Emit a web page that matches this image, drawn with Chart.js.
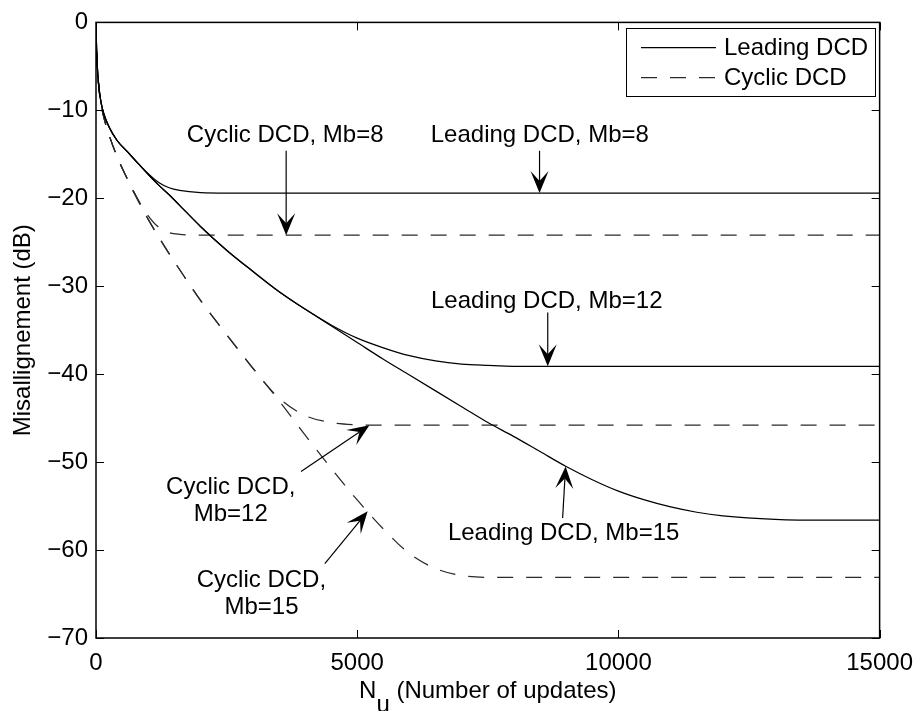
<!DOCTYPE html>
<html>
<head>
<meta charset="utf-8">
<script src="https://cdn.jsdelivr.net/npm/chart.js@4.4.1/dist/chart.umd.min.js"></script>
<style>
  html, body { margin: 0; padding: 0; background: #fff; }
  canvas { display: block; }
</style>
</head>
<body>
<canvas id="c" width="924" height="711"></canvas>
<script>
// Number of updates (shared abscissa for every curve)
const updates = [0, 10, 30, 60, 100, 150, 250, 400, 600, 800, 1000, 1200, 1400, 1600,
  2000, 2500, 3000, 3500, 4000, 4500, 5000, 5500, 6000, 6500, 7000, 7500, 8000,
  8500, 9000, 9500, 10000, 10500, 11000, 11500, 12000, 13000, 14000, 15000];

// Misalignment in dB, leading DCD
const leadingMb8 = [0, -2.8, -5.5, -7.6, -9.2, -10.4, -11.9, -13.4, -14.7, -16.0, -17.2, -18.2, -18.8, -19.1,
  -19.35, -19.4, -19.4, -19.4, -19.4, -19.4, -19.4, -19.4, -19.4, -19.4, -19.4, -19.4, -19.4,
  -19.4, -19.4, -19.4, -19.4, -19.4, -19.4, -19.4, -19.4, -19.4, -19.4, -19.4];
const leadingMb12 = [0, -2.8, -5.5, -7.6, -9.2, -10.4, -11.9, -13.4, -14.7, -16.0, -17.3, -18.5, -19.6, -20.8,
  -23.2, -25.9, -28.3, -30.6, -32.6, -34.4, -35.9, -37.0, -37.9, -38.5, -38.85, -39.0, -39.1,
  -39.1, -39.1, -39.1, -39.1, -39.1, -39.1, -39.1, -39.1, -39.1, -39.1, -39.1];
const leadingMb15 = [0, -2.8, -5.5, -7.6, -9.2, -10.4, -11.9, -13.4, -14.7, -16.0, -17.3, -18.5, -19.6, -20.8,
  -23.2, -25.9, -28.3, -30.6, -32.6, -34.5, -36.4, -38.3, -40.1, -41.9, -43.7, -45.5, -47.1,
  -48.8, -50.5, -52.0, -53.3, -54.3, -55.1, -55.7, -56.1, -56.5, -56.6, -56.6];

// Misalignment in dB, cyclic DCD
const cyclicMb8 = [0, -2.8, -5.5, -7.7, -9.4, -10.8, -12.8, -15.2, -17.8, -20.1, -22.0, -23.3, -23.9, -24.1,
  -24.2, -24.2, -24.2, -24.2, -24.2, -24.2, -24.2, -24.2, -24.2, -24.2, -24.2, -24.2, -24.2,
  -24.2, -24.2, -24.2, -24.2, -24.2, -24.2, -24.2, -24.2, -24.2, -24.2, -24.2];
const cyclicMb12 = [0, -2.8, -5.5, -7.7, -9.4, -10.8, -12.8, -15.2, -17.8, -20.2, -22.4, -24.4, -26.3, -28.1,
  -31.6, -35.5, -39.3, -42.7, -44.7, -45.5, -45.75, -45.8, -45.8, -45.8, -45.8, -45.8, -45.8,
  -45.8, -45.8, -45.8, -45.8, -45.8, -45.8, -45.8, -45.8, -45.8, -45.8, -45.8];
const cyclicMb15 = [0, -2.8, -5.5, -7.7, -9.4, -10.8, -12.8, -15.2, -17.8, -20.2, -22.4, -24.4, -26.3, -28.1,
  -31.6, -35.5, -39.3, -43.0, -46.9, -50.7, -54.3, -57.6, -60.4, -62.1, -62.9, -63.1, -63.1,
  -63.1, -63.1, -63.1, -63.1, -63.1, -63.1, -63.1, -63.1, -63.1, -63.1, -63.1];

// Axis ticks and labels
const xTicks = [0, 5000, 10000, 15000];
const yTicks = [-70, -60, -50, -40, -30, -20, -10, 0];
const legendLabels = ['Leading DCD', 'Cyclic DCD'];
const yTitle = 'Misallignement (dB)';
const xTitleMain = 'N';
const xTitleSub = 'u';
const xTitleRest = ' (Number of updates)';

// Curve annotations: text lines and arrows, in data coordinates
const notes = [
  { lines: ['Cyclic DCD, Mb=8'],        tx: 3622, ty: -13.64, from: [3640, -14.6], to: [3640, -24.2] },
  { lines: ['Leading DCD, Mb=8'],       tx: 8495, ty: -13.64, from: [8490, -14.6], to: [8490, -19.4] },
  { lines: ['Leading DCD, Mb=12'],      tx: 8628, ty: -32.46, from: [8647, -33.0], to: [8647, -39.1] },
  { lines: ['Cyclic DCD,', 'Mb=12'],    tx: 2579, ty: -53.66, from: [3925, -51.06], to: [5234, -45.8] },
  { lines: ['Cyclic DCD,', 'Mb=15'],    tx: 3167, ty: -64.25, from: [4380, -61.55], to: [5200, -55.6] },
  { lines: ['Leading DCD, Mb=15'],      tx: 8951, ty: -58.84, from: [8932, -56.36], to: [8989, -50.5] }
];

const FONT = "'Liberation Sans', Arial, Helvetica, sans-serif";
const DASH = [16, 13];
const minus = v => String(v).replace('-', '\u2212');

function series(label, values, dashed) {
  return {
    label,
    data: updates.map((x, i) => ({ x, y: values[i] })),
    borderColor: dashed ? '#2a2a2a' : '#000',
    borderWidth: 1.25,
    borderDash: dashed ? DASH : [],
    pointRadius: 0,
    fill: false,
    cubicInterpolationMode: 'monotone'
  };
}

function arrow(ctx, x0, y0, x1, y1) {
  const ang = Math.atan2(y1 - y0, x1 - x0);
  const len = 22, notch = 12, half = 9;
  const ca = Math.cos(ang), sa = Math.sin(ang);
  const bx = x1 - ca * len, by = y1 - sa * len;
  const nx = x1 - ca * notch, ny = y1 - sa * notch;
  ctx.beginPath();
  ctx.moveTo(x0, y0);
  ctx.lineTo(nx, ny);
  ctx.stroke();
  ctx.beginPath();
  ctx.moveTo(x1, y1);
  ctx.lineTo(bx - sa * half, by + ca * half);
  ctx.lineTo(nx, ny);
  ctx.lineTo(bx + sa * half, by - ca * half);
  ctx.closePath();
  ctx.fill();
}

const decorations = {
  id: 'decorations',
  afterDatasetsDraw(chart) {
    const ctx = chart.ctx;
    const a = chart.chartArea;
    const xs = chart.scales.x, ys = chart.scales.y;
    ctx.save();
    ctx.strokeStyle = '#000';
    ctx.fillStyle = '#000';
    ctx.setLineDash([]);

    // axes box
    ctx.lineWidth = 1.5;
    ctx.strokeRect(a.left, a.top, a.right - a.left, a.bottom - a.top);

    // inward tick marks on all four sides
    ctx.lineWidth = 1;
    const tl = 8;
    xs.ticks.forEach(t => {
      const px = Math.round(xs.getPixelForValue(t.value)) + 0.5;
      ctx.beginPath();
      ctx.moveTo(px, a.bottom); ctx.lineTo(px, a.bottom - tl);
      ctx.moveTo(px, a.top); ctx.lineTo(px, a.top + tl);
      ctx.stroke();
    });
    ys.ticks.forEach(t => {
      const py = Math.round(ys.getPixelForValue(t.value)) + 0.5;
      ctx.beginPath();
      ctx.moveTo(a.left, py); ctx.lineTo(a.left + tl, py);
      ctx.moveTo(a.right, py); ctx.lineTo(a.right - tl, py);
      ctx.stroke();
    });

    // annotations
    ctx.font = '24px ' + FONT;
    ctx.textAlign = 'center';
    ctx.textBaseline = 'alphabetic';
    ctx.lineWidth = 1.2;
    notes.forEach(n => {
      const tx = xs.getPixelForValue(n.tx);
      const ty = ys.getPixelForValue(n.ty);
      n.lines.forEach((s, i) => ctx.fillText(s, tx, ty + i * 27));
      arrow(ctx, xs.getPixelForValue(n.from[0]), ys.getPixelForValue(n.from[1]),
                 xs.getPixelForValue(n.to[0]), ys.getPixelForValue(n.to[1]));
    });

    // legend box
    const lx = 626.5, ly = 28.5, lw = 249, lh = 68;
    ctx.fillStyle = '#fff';
    ctx.fillRect(lx, ly, lw, lh);
    ctx.lineWidth = 1;
    ctx.strokeRect(lx, ly, lw, lh);
    ctx.fillStyle = '#000';
    ctx.textAlign = 'left';
    legendLabels.forEach((lab, i) => {
      const ds = chart.data.datasets[i === 0 ? 0 : 3];
      const yy = 47 + i * 30;
      ctx.save();
      ctx.strokeStyle = ds.borderColor;
      ctx.lineWidth = ds.borderWidth;
      ctx.setLineDash(ds.borderDash);
      ctx.beginPath();
      ctx.moveTo(641, yy + 0.5); ctx.lineTo(716, yy + 0.5);
      ctx.stroke();
      ctx.restore();
      ctx.fillText(lab, 724, yy + 8);
    });

    // axis titles
    ctx.save();
    ctx.translate(30, (a.top + a.bottom) / 2);
    ctx.rotate(-Math.PI / 2);
    ctx.textAlign = 'center';
    ctx.fillText(yTitle, 0, 0);
    ctx.restore();

    const wN = ctx.measureText(xTitleMain).width;
    const wU = ctx.measureText(xTitleSub).width;
    const wR = ctx.measureText(xTitleRest).width;
    let x0 = (a.left + a.right) / 2 - (wN + wU + wR) / 2;
    ctx.textAlign = 'left';
    ctx.fillText(xTitleMain, x0, 698);
    ctx.fillText(xTitleSub, x0 + wN, 712);
    ctx.fillText(xTitleRest, x0 + wN + wU, 698);

    ctx.restore();
  }
};

Chart.defaults.font.family = FONT;
Chart.defaults.color = '#000';

new Chart(document.getElementById('c'), {
  type: 'line',
  data: {
    datasets: [
      series('Leading DCD, Mb=8', leadingMb8, false),
      series('Leading DCD, Mb=12', leadingMb12, false),
      series('Leading DCD, Mb=15', leadingMb15, false),
      series('Cyclic DCD, Mb=8', cyclicMb8, true),
      series('Cyclic DCD, Mb=12', cyclicMb12, true),
      series('Cyclic DCD, Mb=15', cyclicMb15, true)
    ]
  },
  options: {
    responsive: false,
    animation: false,
    devicePixelRatio: 1,
    layout: { padding: { top: 17, right: 37, left: 0, bottom: 0 } },
    plugins: { legend: { display: false }, tooltip: { enabled: false } },
    scales: {
      x: {
        type: 'linear', min: 0, max: 15000,
        afterBuildTicks: s => { s.ticks = xTicks.map(v => ({ value: v })); },
        afterFit: s => { s.height = 73; },
        grid: { display: false, drawTicks: false },
        border: { display: false },
        ticks: { font: { size: 24 }, padding: 11, maxRotation: 0, autoSkip: false,
                 callback: v => String(v) }
      },
      y: {
        type: 'linear', min: -70, max: 0,
        afterBuildTicks: s => { s.ticks = yTicks.map(v => ({ value: v })); },
        afterFit: s => { s.width = 96; },
        grid: { display: false, drawTicks: false },
        border: { display: false },
        ticks: { font: { size: 24 }, padding: 8, autoSkip: false, callback: v => minus(v) }
      }
    }
  },
  plugins: [decorations]
});
</script>
</body>
</html>
